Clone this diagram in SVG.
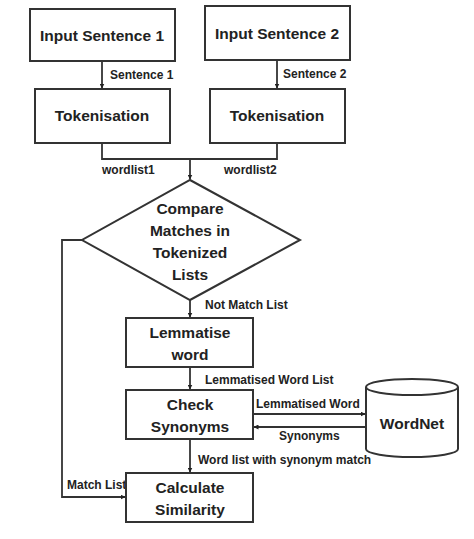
<svg xmlns="http://www.w3.org/2000/svg" width="474" height="539" viewBox="0 0 474 539">
<defs>
<style>
.box{fill:#fff;stroke:#333;stroke-width:2}
.t{font-family:"Liberation Sans",Arial,sans-serif;font-weight:bold;font-size:15.5px;fill:#222;text-anchor:middle}
.l{font-family:"Liberation Sans",Arial,sans-serif;font-weight:bold;font-size:12px;fill:#222}
.c{fill:none;stroke:#333;stroke-width:1.8}
</style>
<marker id="ah" viewBox="0 0 10 10" refX="9" refY="5" markerWidth="5" markerHeight="5" orient="auto" markerUnits="userSpaceOnUse">
<path d="M0,0 L10,5 L0,10 z" fill="#222"/>
</marker>
</defs>
<rect width="474" height="539" fill="#fff"/>
<g id="connectors">
<path class="c" d="M102,61 V88" marker-end="url(#ah)"/>
<path class="c" d="M277,60 V88" marker-end="url(#ah)"/>
<path class="c" d="M102,143 V159 H277 V143"/>
<path class="c" d="M190,159 V179" marker-end="url(#ah)"/>
<path class="c" d="M190,300 V317" marker-end="url(#ah)"/>
<path class="c" d="M190,367 V389" marker-end="url(#ah)"/>
<path class="c" d="M253,414 H365" marker-end="url(#ah)"/>
<path class="c" d="M366,427 H254" marker-end="url(#ah)"/>
<path class="c" d="M190,439 V472" marker-end="url(#ah)"/>
<path class="c" d="M82,240 H62 V497 H125" marker-end="url(#ah)"/>
<text class="l" x="110" y="79">Sentence 1</text>
<text class="l" x="283" y="78">Sentence 2</text>
<text class="l" x="102" y="174">wordlist1</text>
<text class="l" x="224" y="174">wordlist2</text>
<text class="l" x="205" y="309">Not Match List</text>
<text class="l" x="205" y="384">Lemmatised Word List</text>
<text class="l" x="256" y="408">Lemmatised Word</text>
<text class="l" x="279" y="440">Synonyms</text>
<text class="l" x="198" y="464">Word list with synonym match</text>
<text class="l" x="67" y="489">Match List</text>
</g>
<g id="input1">
<rect class="box" x="30" y="9" width="145" height="52"/>
<text class="t" x="102" y="41">Input Sentence 1</text>
</g>
<g id="input2">
<rect class="box" x="205" y="6" width="145" height="54"/>
<text class="t" x="277" y="39">Input Sentence 2</text>
</g>
<g id="token1">
<rect class="box" x="35" y="89" width="135" height="54"/>
<text class="t" x="102" y="121">Tokenisation</text>
</g>
<g id="token2">
<rect class="box" x="210" y="89" width="135" height="54"/>
<text class="t" x="277" y="121">Tokenisation</text>
</g>
<g id="compare">
<polygon class="box" points="190,180 300,240 190,300 82,240"/>
<text class="t" x="190" y="214">Compare</text>
<text class="t" x="190" y="236">Matches in</text>
<text class="t" x="190" y="258">Tokenized</text>
<text class="t" x="190" y="280">Lists</text>
</g>
<g id="lemmatise">
<rect class="box" x="126" y="318" width="127" height="49"/>
<text class="t" x="190" y="338">Lemmatise</text>
<text class="t" x="190" y="360">word</text>
</g>
<g id="check">
<rect class="box" x="126" y="390" width="127" height="49"/>
<text class="t" x="190" y="410">Check</text>
<text class="t" x="190" y="432">Synonyms</text>
</g>
<g id="wordnet">
<path class="box" d="M366,387 V449 A46,8 0 0 0 458,449 V387"/>
<ellipse class="box" cx="412" cy="387" rx="46" ry="8"/>
<text class="t" x="412" y="429">WordNet</text>
</g>
<g id="calculate">
<rect class="box" x="126" y="473" width="127" height="49"/>
<text class="t" x="190" y="493">Calculate</text>
<text class="t" x="190" y="515">Similarity</text>
</g>
</svg>
